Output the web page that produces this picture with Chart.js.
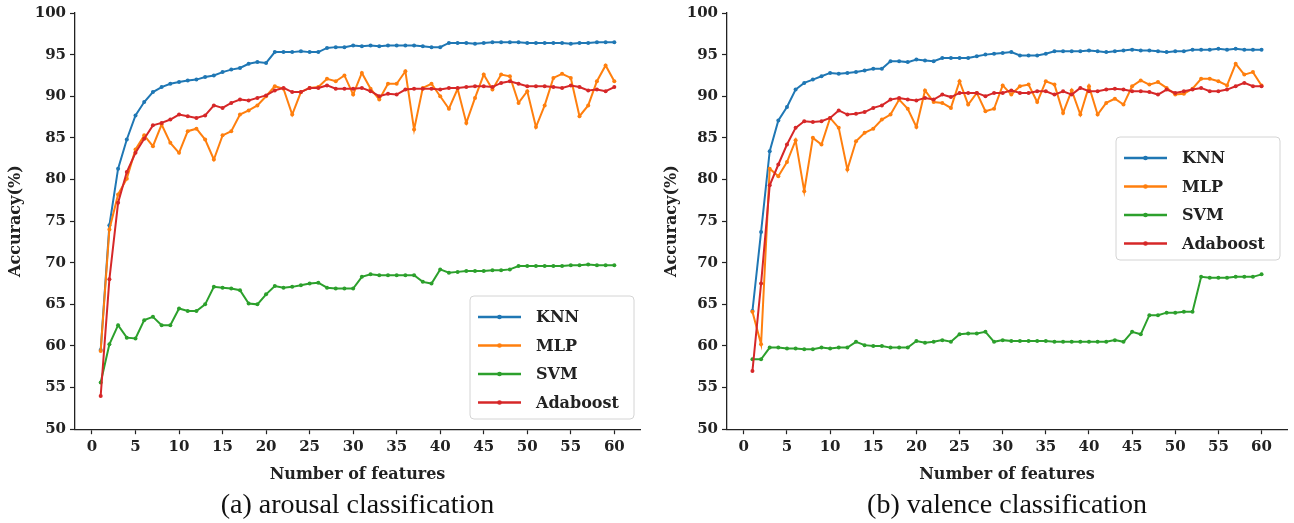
<!DOCTYPE html>
<html>
<head>
<meta charset="utf-8">
<script src="https://cdn.jsdelivr.net/npm/chart.js@4.4.1/dist/chart.umd.min.js"></script>
<style>
  html, body { margin: 0; padding: 0; background: #fff; }
  #wrap { position: relative; width: 1294px; height: 523px; overflow: hidden; }
  canvas { position: absolute; top: 0; }
  #arousal { left: 0; }
  #valence { left: 652px; }
</style>
</head>
<body>
<div id="wrap">
  <canvas id="arousal" width="647" height="523"></canvas>
  <canvas id="valence" width="642" height="523"></canvas>
</div>
<script>
const features = [1, 2, 3, 4, 5, 6, 7, 8, 9, 10, 11, 12, 13, 14, 15, 16, 17, 18, 19, 20,
  21, 22, 23, 24, 25, 26, 27, 28, 29, 30, 31, 32, 33, 34, 35, 36, 37, 38, 39, 40,
  41, 42, 43, 44, 45, 46, 47, 48, 49, 50, 51, 52, 53, 54, 55, 56, 57, 58, 59, 60];
const yTicks = [50, 55, 60, 65, 70, 75, 80, 85, 90, 95, 100];
const xTicks = [0, 5, 10, 15, 20, 25, 30, 35, 40, 45, 50, 55, 60];
const models = ["KNN", "MLP", "SVM", "Adaboost"];

// (a) arousal
const knnArousal = [59.5, 74.5, 81.3, 84.8, 87.7, 89.3, 90.5, 91.1, 91.5, 91.7,
  91.9, 92.0, 92.3, 92.5, 92.9, 93.2, 93.4, 93.9, 94.1, 94.0,
  95.3, 95.3, 95.3, 95.4, 95.3, 95.3, 95.8, 95.9, 95.9, 96.1,
  96.0, 96.1, 96.0, 96.1, 96.1, 96.1, 96.1, 96.0, 95.9, 95.9,
  96.4, 96.4, 96.4, 96.3, 96.4, 96.5, 96.5, 96.5, 96.5, 96.4,
  96.4, 96.4, 96.4, 96.4, 96.3, 96.4, 96.4, 96.5, 96.5, 96.5];
const mlpArousal = [59.4, 74.0, 78.2, 80.1, 83.6, 85.3, 84.0, 86.6, 84.4, 83.2,
  85.8, 86.1, 84.8, 82.4, 85.3, 85.8, 87.8, 88.3, 88.9, 90.0,
  91.2, 90.9, 87.8, 90.5, 91.0, 91.1, 92.1, 91.8, 92.5, 90.2,
  92.8, 90.9, 89.6, 91.5, 91.5, 93.0, 86.0, 91.0, 91.5, 90.0,
  88.5, 90.9, 86.8, 89.8, 92.6, 90.8, 92.6, 92.4, 89.2, 90.6,
  86.3, 88.9, 92.2, 92.7, 92.2, 87.6, 88.9, 91.8, 93.7, 91.8];
const svmArousal = [55.6, 60.2, 62.5, 61.0, 60.9, 63.1, 63.5, 62.5, 62.5, 64.5,
  64.2, 64.2, 65.0, 67.1, 67.0, 66.9, 66.7, 65.1, 65.0, 66.2,
  67.2, 67.0, 67.1, 67.3, 67.5, 67.6, 67.0, 66.9, 66.9, 66.9,
  68.3, 68.6, 68.5, 68.5, 68.5, 68.5, 68.5, 67.7, 67.5, 69.2,
  68.8, 68.9, 69.0, 69.0, 69.0, 69.1, 69.1, 69.2, 69.6, 69.6,
  69.6, 69.6, 69.6, 69.6, 69.7, 69.7, 69.8, 69.7, 69.7, 69.7];
const adaArousal = [54.0, 68.0, 77.2, 80.9, 83.2, 84.9, 86.5, 86.8, 87.2, 87.8,
  87.6, 87.4, 87.7, 88.9, 88.6, 89.2, 89.6, 89.5, 89.8, 90.1,
  90.7, 91.0, 90.5, 90.5, 91.0, 91.0, 91.3, 90.9, 90.9, 90.9,
  91.0, 90.6, 90.0, 90.3, 90.2, 90.8, 90.9, 90.9, 90.9, 90.8,
  91.0, 91.0, 91.1, 91.2, 91.2, 91.1, 91.6, 91.8, 91.5, 91.2,
  91.2, 91.2, 91.1, 91.0, 91.3, 91.1, 90.7, 90.8, 90.6, 91.1];

// (b) valence
const knnValence = [64.2, 73.7, 83.4, 87.1, 88.7, 90.8, 91.6, 92.0, 92.4, 92.8,
  92.7, 92.8, 92.9, 93.1, 93.3, 93.3, 94.2, 94.2, 94.1, 94.4,
  94.3, 94.2, 94.6, 94.6, 94.6, 94.6, 94.8, 95.0, 95.1, 95.2,
  95.3, 94.9, 94.9, 94.9, 95.1, 95.4, 95.4, 95.4, 95.4, 95.5,
  95.4, 95.3, 95.4, 95.5, 95.6, 95.5, 95.5, 95.4, 95.3, 95.4,
  95.4, 95.6, 95.6, 95.6, 95.7, 95.6, 95.7, 95.6, 95.6, 95.6];
const mlpValence = [64.1, 60.2, 81.3, 80.4, 82.1, 84.7, 78.6, 85.0, 84.2, 87.4,
  86.2, 81.2, 84.6, 85.6, 86.1, 87.2, 87.8, 89.6, 88.5, 86.3,
  90.7, 89.3, 89.2, 88.6, 91.8, 89.0, 90.4, 88.2, 88.5, 91.3,
  90.2, 91.2, 91.4, 89.3, 91.8, 91.4, 88.0, 90.7, 87.8, 91.2,
  87.8, 89.2, 89.7, 89.0, 91.2, 91.9, 91.4, 91.7, 91.0, 90.2,
  90.3, 90.9, 92.1, 92.1, 91.8, 91.3, 93.9, 92.6, 92.9, 91.3];
const svmValence = [58.4, 58.4, 59.8, 59.8, 59.7, 59.7, 59.6, 59.6, 59.8, 59.7,
  59.8, 59.8, 60.5, 60.1, 60.0, 60.0, 59.8, 59.8, 59.8, 60.6,
  60.4, 60.5, 60.7, 60.5, 61.4, 61.5, 61.5, 61.7, 60.5, 60.7,
  60.6, 60.6, 60.6, 60.6, 60.6, 60.5, 60.5, 60.5, 60.5, 60.5,
  60.5, 60.5, 60.7, 60.5, 61.7, 61.4, 63.7, 63.7, 64.0, 64.0,
  64.1, 64.1, 68.3, 68.2, 68.2, 68.2, 68.3, 68.3, 68.3, 68.6];
const adaValence = [57.0, 67.5, 79.3, 81.8, 84.2, 86.2, 87.0, 86.9, 87.0, 87.4,
  88.3, 87.8, 87.9, 88.1, 88.6, 88.9, 89.6, 89.8, 89.6, 89.5,
  89.8, 89.6, 90.2, 89.9, 90.4, 90.4, 90.4, 90.0, 90.4, 90.4,
  90.7, 90.4, 90.4, 90.6, 90.6, 90.2, 90.6, 90.2, 91.0, 90.6,
  90.6, 90.8, 90.9, 90.8, 90.6, 90.6, 90.5, 90.2, 90.8, 90.4,
  90.6, 90.8, 91.0, 90.6, 90.6, 90.8, 91.2, 91.6, 91.2, 91.2];

const colors = ["#1f77b4", "#ff7f0e", "#2ca02c", "#d62728"];
const SERIF = "'DejaVu Serif', serif";
const INK = "#222";

// legend box drawn inside the plot, like matplotlib's
const boxLegend = {
  id: "boxLegend",
  afterDatasetsDraw(chart, args, opts) {
    const { ctx, chartArea } = chart;
    const x0 = chartArea.right - opts.right - opts.width;
    const y0 = chartArea.top + opts.top;
    ctx.save();
    ctx.beginPath();
    ctx.roundRect(x0, y0, opts.width, opts.height, 4);
    ctx.fillStyle = "rgba(255,255,255,0.85)";
    ctx.fill();
    ctx.strokeStyle = "#d4d4d4";
    ctx.lineWidth = 1;
    ctx.stroke();
    chart.data.datasets.forEach((ds, i) => {
      const y = y0 + 21 + i * 28.5;
      ctx.strokeStyle = ds.borderColor;
      ctx.lineWidth = 2.5;
      ctx.beginPath();
      ctx.moveTo(x0 + 8, y);
      ctx.lineTo(x0 + 51, y);
      ctx.stroke();
      ctx.fillStyle = ds.borderColor;
      ctx.beginPath();
      ctx.arc(x0 + 29.5, y, 2.3, 0, Math.PI * 2);
      ctx.fill();
      ctx.fillStyle = INK;
      ctx.font = "bold 16px " + SERIF;
      ctx.textBaseline = "middle";
      ctx.fillText(ds.label, x0 + 66, y + 1);
    });
    ctx.restore();
  },
};

function makeChart(id, caption, series, legendPos, yTitleGap) {
  const datasets = series.map((vals, i) => ({
    label: models[i],
    data: features.map((f, j) => ({ x: f, y: vals[j] })),
    borderColor: colors[i],
    backgroundColor: colors[i],
    borderWidth: 2,
    pointRadius: 2,
    pointBorderWidth: 0,
    tension: 0,
    order: 4 - i,
  }));
  return new Chart(document.getElementById(id), {
    type: "line",
    data: { datasets },
    plugins: [boxLegend],
    options: {
      responsive: false,
      animation: false,
      layout: { padding: { left: 0, right: 7, top: 10, bottom: 0 } },
      scales: {
        x: {
          type: "linear",
          min: -1.95,
          max: 62.95,
          afterBuildTicks: (s) => { s.ticks = xTicks.map((v) => ({ value: v })); },
          ticks: { font: { family: SERIF, size: 15, weight: "bold" }, color: INK, padding: 4, maxRotation: 0 },
          grid: { display: true, drawOnChartArea: false, drawTicks: true, tickLength: 5, color: INK, tickWidth: 1.2 },
          border: { display: true, color: INK, width: 1.3 },
          title: {
            display: true, text: "Number of features", color: INK,
            font: { family: SERIF, size: 16, weight: "bold" }, padding: { top: 5, bottom: 0 },
          },
        },
        y: {
          min: 50,
          max: 100,
          afterBuildTicks: (s) => { s.ticks = yTicks.map((v) => ({ value: v })); },
          afterFit: (s) => { s.width = 75; },
          ticks: { font: { family: SERIF, size: 15, weight: "bold" }, color: INK, padding: 4 },
          grid: { display: true, drawOnChartArea: false, drawTicks: true, tickLength: 5, color: INK, tickWidth: 1.2 },
          border: { display: true, color: INK, width: 1.3 },
          title: {
            display: true, text: "Accuracy(%)", color: INK,
            font: { family: SERIF, size: 16, weight: "bold" }, padding: { top: yTitleGap, bottom: 0 },
          },
        },
      },
      plugins: {
        legend: { display: false },
        tooltip: { enabled: false },
        title: {
          display: true, position: "bottom", fullSize: false, text: caption, color: "#111",
          font: { family: "'Liberation Serif', serif", size: 28, weight: "normal" },
          padding: { top: 4, bottom: 1 },
        },
        boxLegend: legendPos,
      },
    },
  });
}

makeChart("arousal", "(a) arousal classification",
  [knnArousal, mlpArousal, svmArousal, adaArousal],
  { right: 6, top: 283, width: 164, height: 123 }, 6);
makeChart("valence", "(b) valence classification",
  [knnValence, mlpValence, svmValence, adaValence],
  { right: 7, top: 124, width: 164, height: 123 }, 10);
</script>
</body>
</html>
